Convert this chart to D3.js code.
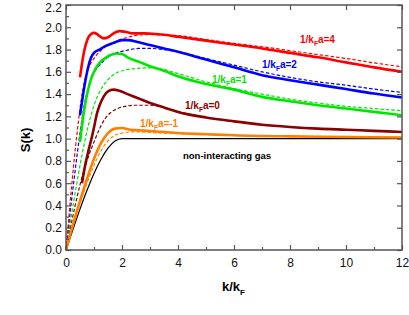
<!DOCTYPE html>
<html>
<head>
<meta charset="utf-8">
<script src="https://cdn.jsdelivr.net/npm/d3@7"></script>
<style>
    html, body { margin: 0; padding: 0; background: #fff; }
    svg { display: block; font-family: "Liberation Sans", Arial, sans-serif; }
</style>
</head>
<body>
<svg id="chart"></svg>
<script>
// Tick values
const xTicks = [0, 2, 4, 6, 8, 10, 12];
const xMinor = [1, 3, 5, 7, 9, 11];
const yTicks = [0.0, 0.2, 0.4, 0.6, 0.8, 1.0, 1.2, 1.4, 1.6, 1.8, 2.0, 2.2];
const yMinor = [0.1, 0.3, 0.5, 0.7, 0.9, 1.1, 1.3, 1.5, 1.7, 1.9, 2.1];

// Non-interacting gas
const freeK = [0, 0.25, 0.5, 0.75, 1.0, 1.25, 1.5, 1.75, 2.0, 12];
const freeS = [0, 0.186, 0.367, 0.536, 0.688, 0.815, 0.914, 0.978, 1.0, 1.0];

// 1/kFa = -1
const m1K = [0, 0.25, 0.5, 0.75, 1.0, 1.25, 1.5, 1.75, 2.0, 2.3, 2.6, 3, 3.5, 4, 5, 6, 8, 10, 12];
const m1S = [0, 0.23, 0.44, 0.64, 0.82, 0.96, 1.05, 1.09, 1.095, 1.08, 1.075, 1.068, 1.06, 1.05, 1.04, 1.03, 1.02, 1.015, 1.01];
const m1dK = [0, 0.25, 0.5, 0.75, 1.0, 1.25, 1.5, 1.75, 2.0, 2.3, 2.6, 3, 3.5, 4, 5, 6, 8, 10, 12];
const m1dS = [0, 0.22, 0.42, 0.6, 0.76, 0.89, 0.98, 1.03, 1.05, 1.06, 1.06, 1.055, 1.05, 1.045, 1.037, 1.03, 1.02, 1.015, 1.01];

// 1/kFa = 0
const z0K = [0.57, 0.7, 0.8, 0.9, 1.0, 1.1, 1.2, 1.35, 1.5, 1.7, 1.9, 2.2, 2.6, 3, 3.5, 4, 5, 6, 7, 8, 9, 10, 11, 12];
const z0S = [0.60, 0.78, 0.89, 0.99, 1.10, 1.22, 1.30, 1.38, 1.425, 1.44, 1.43, 1.40, 1.36, 1.32, 1.28, 1.24, 1.19, 1.155, 1.125, 1.105, 1.09, 1.08, 1.07, 1.06];
const z0dK = [0, 0.2, 0.4, 0.6, 0.8, 1.0, 1.2, 1.4, 1.6, 1.8, 2.1, 2.5, 3, 3.5, 4, 5, 6, 7, 8, 9, 10, 11, 12];
const z0dS = [0, 0.25, 0.48, 0.68, 0.84, 0.97, 1.09, 1.18, 1.235, 1.265, 1.29, 1.30, 1.30, 1.28, 1.245, 1.19, 1.155, 1.125, 1.105, 1.09, 1.08, 1.07, 1.06];

// 1/kFa = 1
const p1K = [0.5, 0.6, 0.7, 0.8, 0.9, 1.0, 1.2, 1.5, 1.8, 2.0, 2.2, 2.6, 3, 3.5, 4, 5, 6, 7, 8, 9, 10, 11, 12];
const p1S = [0.97, 1.17, 1.33, 1.45, 1.54, 1.60, 1.68, 1.74, 1.765, 1.76, 1.73, 1.69, 1.65, 1.61, 1.56, 1.49, 1.44, 1.375, 1.335, 1.30, 1.27, 1.24, 1.21];
const p1dK = [0, 0.1, 0.2, 0.3, 0.4, 0.5, 0.6, 0.8, 1.0, 1.2, 1.5, 1.8, 2.1, 2.5, 3, 3.5, 4, 5, 6, 7, 8, 9, 10, 11, 12];
const p1dS = [0, 0.16, 0.32, 0.47, 0.62, 0.76, 0.89, 1.12, 1.30, 1.42, 1.53, 1.59, 1.615, 1.63, 1.635, 1.62, 1.585, 1.51, 1.45, 1.40, 1.355, 1.32, 1.29, 1.27, 1.25];

// 1/kFa = 2
const p2K = [0.5, 0.6, 0.7, 0.8, 0.9, 1.0, 1.2, 1.4, 1.7, 2.0, 2.2, 2.6, 3, 3.5, 4, 5, 6, 7, 8, 9, 10, 11, 12];
const p2S = [1.21, 1.38, 1.53, 1.65, 1.73, 1.77, 1.80, 1.83, 1.86, 1.885, 1.885, 1.865, 1.84, 1.81, 1.78, 1.71, 1.64, 1.57, 1.525, 1.485, 1.445, 1.405, 1.37];
const p2dK = [0, 0.1, 0.2, 0.3, 0.4, 0.5, 0.6, 0.7, 0.8, 1.0, 1.2, 1.5, 1.8, 2.2, 2.6, 3, 3.5, 4, 5, 6, 7, 8, 9, 10, 11, 12];
const p2dS = [0, 0.23, 0.45, 0.66, 0.86, 1.05, 1.22, 1.36, 1.46, 1.59, 1.66, 1.73, 1.77, 1.795, 1.81, 1.81, 1.80, 1.78, 1.72, 1.66, 1.60, 1.55, 1.51, 1.48, 1.445, 1.415];

// 1/kFa = 4
const p4K = [0.5, 0.6, 0.7, 0.8, 0.9, 1.0, 1.1, 1.2, 1.35, 1.5, 1.7, 1.9, 2.1, 2.4, 2.8, 3.2, 3.6, 4, 5, 6, 7, 8, 9, 10, 11, 12];
const p4S = [1.55, 1.72, 1.84, 1.91, 1.94, 1.95, 1.94, 1.92, 1.90, 1.91, 1.945, 1.965, 1.96, 1.945, 1.945, 1.94, 1.93, 1.915, 1.88, 1.845, 1.81, 1.77, 1.73, 1.685, 1.64, 1.60];
const p4dK = [0, 0.1, 0.2, 0.3, 0.4, 0.5, 0.6, 0.8, 1.0, 1.2, 1.5, 1.8, 2.2, 2.6, 3, 3.5, 4, 5, 6, 7, 8, 9, 10, 11, 12];
const p4dS = [0, 0.29, 0.57, 0.83, 1.06, 1.27, 1.44, 1.63, 1.72, 1.78, 1.84, 1.875, 1.91, 1.93, 1.935, 1.93, 1.925, 1.89, 1.855, 1.825, 1.79, 1.755, 1.72, 1.68, 1.645];

const series = [
    { k: m1dK, s: m1dS, color: '#ff8000', dashed: true },
    { k: z0dK, s: z0dS, color: '#8b0000', dashed: true },
    { k: p1dK, s: p1dS, color: '#00e600', dashed: true },
    { k: p2dK, s: p2dS, color: '#0000ff', dashed: true },
    { k: p4dK, s: p4dS, color: '#ff0000', dashed: true },
    { k: freeK, s: freeS, color: '#000000', thin: true },
    { k: m1K, s: m1S, color: '#ff8000' },
    { k: z0K, s: z0S, color: '#8b0000' },
    { k: p1K, s: p1S, color: '#00e600' },
    { k: p2K, s: p2S, color: '#0000ff' },
    { k: p4K, s: p4S, color: '#ff0000' }
];

const labels = [
    { pre: '1/k', sub: 'F', post: 'a=4', x: 300, y: 43, color: '#ff0000' },
    { pre: '1/k', sub: 'F', post: 'a=2', x: 262, y: 68, color: '#0000ff' },
    { pre: '1/k', sub: 'F', post: 'a=1', x: 212, y: 83, color: '#00e600' },
    { pre: '1/k', sub: 'F', post: 'a=0', x: 185, y: 109, color: '#8b0000' },
    { pre: '1/k', sub: 'F', post: 'a=-1', x: 140, y: 127, color: '#ff8000' }
];

const width = 409, height = 315;
const plot = { left: 66, right: 402, top: 5, bottom: 250 };
const axisColor = '#555';

const svg = d3.select('#chart').attr('width', width).attr('height', height);

const x = d3.scaleLinear().domain([0, 12]).range([plot.left, plot.right]);
const y = d3.scaleLinear().domain([0, 2.2]).range([plot.bottom, plot.top]);

// Curves
const line = d3.line()
    .x(d => x(d[0]))
    .y(d => y(d[1]))
    .curve(d3.curveMonotoneX);

const curves = svg.append('g');
series.forEach(sr => {
    const pts = sr.k.map((k, i) => [k, sr.s[i]]);
    curves.append('path')
        .attr('d', line(pts))
        .attr('fill', 'none')
        .attr('stroke', sr.color)
        .attr('stroke-width', sr.dashed ? 1.2 : (sr.thin ? 1.2 : 2.6))
        .attr('stroke-dasharray', sr.dashed ? '3.5,2' : null)
        .attr('stroke-linejoin', 'round');
});

// Axes
function styleAxis(g) {
    g.select('.domain').remove();
    g.selectAll('.tick line').attr('stroke', axisColor).attr('stroke-width', 1.2);
    g.selectAll('.tick text')
        .attr('fill', '#111')
        .style('font-size', '12px')
        .style('font-family', '"Liberation Sans", Arial, sans-serif');
}

svg.append('g')
    .attr('transform', `translate(0,${plot.bottom})`)
    .call(d3.axisBottom(x).tickValues(xTicks).tickSize(-5).tickPadding(8).tickFormat(d3.format('d')))
    .call(styleAxis);
svg.append('g')
    .attr('transform', `translate(0,${plot.bottom})`)
    .call(d3.axisBottom(x).tickValues(xMinor).tickSize(-3).tickFormat(''))
    .call(styleAxis);
svg.append('g')
    .attr('transform', `translate(0,${plot.top})`)
    .call(d3.axisTop(x).tickValues(xTicks).tickSize(-5).tickFormat(''))
    .call(styleAxis);

const yAxisG = svg.append('g')
    .attr('transform', `translate(${plot.left},0)`)
    .call(d3.axisLeft(y).tickValues(yTicks).tickSize(-5).tickPadding(4).tickFormat(d3.format('.1f')))
    .call(styleAxis);
// keep the top label inside the window
yAxisG.selectAll('.tick text').filter(d => d === 2.2).attr('dy', '0.5em');

svg.append('g')
    .attr('transform', `translate(${plot.left},0)`)
    .call(d3.axisLeft(y).tickValues(yMinor).tickSize(-3).tickFormat(''))
    .call(styleAxis);
svg.append('g')
    .attr('transform', `translate(${plot.right},0)`)
    .call(d3.axisRight(y).tickValues(yTicks).tickSize(-5).tickFormat(''))
    .call(styleAxis);

// Frame
svg.append('rect')
    .attr('x', plot.left)
    .attr('y', plot.top)
    .attr('width', plot.right - plot.left)
    .attr('height', plot.bottom - plot.top)
    .attr('fill', 'none')
    .attr('stroke', axisColor)
    .attr('stroke-width', 1.5);

// Curve labels
labels.forEach(l => {
    const t = svg.append('text')
        .attr('x', l.x)
        .attr('y', l.y)
        .attr('fill', l.color)
        .attr('font-size', '10px')
        .attr('font-weight', 'bold');
    t.append('tspan').text(l.pre);
    t.append('tspan').attr('dy', 3).attr('font-size', '6.5px').text(l.sub);
    t.append('tspan').attr('dy', -3).text(l.post);
});

svg.append('text')
    .attr('x', 183)
    .attr('y', 159)
    .attr('font-size', '9.5px')
    .attr('font-weight', 'bold')
    .attr('fill', '#000')
    .text('non-interacting gas');

// Axis titles
svg.append('text')
    .attr('transform', 'translate(30,140) rotate(-90)')
    .attr('text-anchor', 'middle')
    .attr('font-size', '13px')
    .attr('font-weight', 'bold')
    .text('S(k)');

const xt = svg.append('text')
    .attr('x', 222)
    .attr('y', 291)
    .attr('font-size', '13px')
    .attr('font-weight', 'bold');
xt.append('tspan').text('k/k');
xt.append('tspan').attr('dy', 4).attr('font-size', '8px').text('F');
</script>
</body>
</html>
